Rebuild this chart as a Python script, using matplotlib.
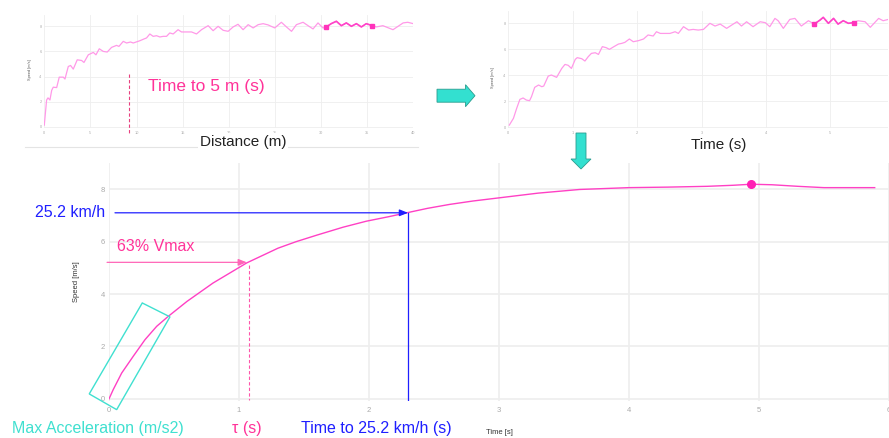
import matplotlib
matplotlib.use("Agg")
import matplotlib.pyplot as plt
from matplotlib.patches import Polygon, FancyArrow
from matplotlib.transforms import Affine2D

# ---------------- data ----------------
# main chart: modelled speed vs time
main_time = [0, 0.033, 0.098, 0.187, 0.277, 0.367, 0.456, 0.6, 0.8, 1.06, 1.3, 1.44, 1.6,
             1.8, 1.98, 2.15, 2.29, 2.45, 2.62, 2.8, 3.0, 3.3, 3.62, 4.0, 4.3, 4.6, 4.8,
             4.94, 5.1, 5.3, 5.5, 5.7, 5.89]
main_speed = [0, 0.36, 0.99, 1.63, 2.26, 2.77, 3.15, 3.72, 4.42, 5.19, 5.75, 6.0, 6.25,
              6.55, 6.78, 6.95, 7.1, 7.27, 7.42, 7.55, 7.67, 7.85, 7.99, 8.06, 8.08, 8.11,
              8.15, 8.19, 8.17, 8.11, 8.06, 8.06, 8.06]
vmax_time, vmax_speed = 4.94, 8.19
tau_time, tau_speed = 1.06, 5.19
t252_time, t252_speed = 2.30, 7.10
accel_box_x = [-0.152, 0.256, 0.469, 0.059]
accel_box_y = [0.19, 3.66, 3.13, -0.41]

# top-left: raw speed vs distance
dist_d = [0, 0.25, 0.4, 0.61, 0.8, 0.97, 1.34, 1.62, 2.06, 2.24, 2.6, 2.85, 3.14, 3.57,
          4.04, 4.3, 4.77, 5.31, 5.6, 5.96, 6.39, 6.82, 7.29, 7.83, 8.09, 8.56, 8.92,
          9.35, 9.64, 10.36, 10.8, 11.08, 11.44, 11.8, 12.17, 12.53, 12.89, 13.25, 13.6,
          13.97, 14.5, 14.87, 15.4, 15.96, 16.5, 17.04, 17.76, 18.3, 18.84, 19.39, 19.93,
          20.47, 21.0, 21.55, 22.1, 22.64, 23.18, 23.72, 24.26, 24.98, 25.7, 26.25, 26.8,
          27.33, 28.05, 28.59, 29.13, 29.67, 30.2, 30.58, 31.1, 31.66, 32.2, 32.74, 33.29,
          33.83, 34.37, 34.9, 35.56, 36.0, 36.7, 37.8, 38.9, 39.4, 40.0]
dist_v = [0.13, 2.13, 2.3, 2.13, 2.9, 3.15, 3.12, 3.95, 3.95, 3.8, 4.8, 4.88, 4.59, 5.33,
          5.28, 5.12, 5.73, 5.92, 5.73, 6.21, 6.0, 5.95, 6.32, 6.48, 6.4, 6.8, 6.67,
          6.75, 6.67, 6.85, 6.99, 7.07, 7.39, 7.2, 7.25, 7.15, 7.2, 7.2, 7.47,
          7.39, 7.73, 7.55, 7.55, 7.55, 7.39, 7.73, 8.05, 7.65, 8.0, 7.68, 7.6,
          7.95, 8.16, 7.73, 8.13, 7.87, 8.13, 8.21, 8.11, 7.87, 8.32, 7.95, 7.6,
          8.13, 8.32, 8.05, 7.79, 8.27, 7.87, 7.95, 8.21, 8.4, 8.05, 8.27, 8.0,
          8.21, 7.95, 8.21, 8.05, 7.95, 8.05, 7.73, 8.27, 8.32, 8.21]
dist_hi_start, dist_hi_end = 30.58, 35.56
dist_5m_marker = 9.2

# top-right: raw speed vs time
raw_t = [0.016, 0.08, 0.13, 0.18, 0.23, 0.28, 0.33, 0.36, 0.41, 0.47, 0.52, 0.55, 0.62,
         0.67, 0.75, 0.83, 0.88, 0.93, 0.98, 1.04, 1.07, 1.14, 1.19, 1.24, 1.29, 1.35,
         1.4, 1.46, 1.52, 1.57, 1.64, 1.71, 1.76, 1.81, 1.88, 1.94, 2.02, 2.1, 2.17,
         2.25, 2.3, 2.36, 2.43, 2.51, 2.59, 2.64, 2.72, 2.8, 2.87, 2.95, 3.03, 3.13,
         3.21, 3.29, 3.39, 3.47, 3.55, 3.62, 3.7, 3.8, 3.91, 3.99, 4.06, 4.14, 4.19,
         4.27, 4.37, 4.45, 4.55, 4.66, 4.75, 4.84, 4.89, 4.97, 5.05, 5.12, 5.2, 5.28,
         5.36, 5.43, 5.54, 5.62, 5.75, 5.82, 5.9]
raw_v = [0.15, 0.67, 1.44, 2.13, 2.24, 2.08, 2.03, 2.34, 3.06, 3.24, 3.11, 3.16, 3.93,
         4.01, 3.83, 4.52, 4.83, 4.76, 4.52, 5.22, 5.35, 5.27, 5.09, 5.42, 5.68, 5.73,
         5.6, 6.2, 6.12, 5.99, 6.2, 6.4, 6.45, 6.53, 6.79, 6.58, 6.66, 6.79, 7.1,
         7.02, 7.35, 7.22, 7.22, 7.22, 7.35, 7.22, 7.74, 7.48, 7.53, 7.48, 7.53, 8.0,
         7.79, 7.94, 7.61, 7.87, 8.12, 7.79, 8.12, 7.74, 8.12, 8.05, 7.74, 8.38, 8.2,
         7.61, 8.3, 8.38, 7.79, 8.2, 7.94, 8.25, 8.46, 8.0, 8.38, 7.94, 8.2, 8.0,
         8.05, 8.2, 8.12, 7.69, 8.38, 8.2, 8.3]
raw_hi_start, raw_hi_end = 4.75, 5.36

main_xticks = [0, 1, 2, 3, 4, 5, 6]
main_yticks = [0, 2, 4, 6, 8]
dist_xticks = [0, 5, 10, 15, 20, 25, 30, 35, 40]
raw_xticks = [0, 1, 2, 3, 4, 5]
small_yticks = [0, 2, 4, 6, 8]

# ---------------- style ----------------
W, H = 889, 438
fig = plt.figure(figsize=(W / 100, H / 100), dpi=100)
fig.patch.set_facecolor("white")
TXT = ["Liberation Sans", "DejaVu Sans"]
PINK = "#ff40c4"
LIGHTPINK = "#ff99e8"
HOTPINK = "#ff3399"
BLUE = "#1f1fff"
CYAN = "#40e0d0"
GRID = "#eeeeee"


def px_rect(left, top, right, bottom):
    return [left / W, 1 - bottom / H, (right - left) / W, (bottom - top) / H]


def style_axes(ax, size, grid_lw):
    for s in ax.spines.values():
        s.set_visible(False)
    ax.grid(True, color=GRID, linewidth=grid_lw)
    ax.set_axisbelow(True)
    ax.tick_params(length=0, labelsize=size, labelcolor="#aaaaaa")
    for lab in ax.get_xticklabels() + ax.get_yticklabels():
        lab.set_family(TXT)


def fx(x):
    return x / W


def fy(y):
    return 1 - y / H


# ---------------- main chart ----------------
ax = fig.add_axes(px_rect(109, 163, 889, 401))
ax.set_xlim(0, 6)
ax.set_ylim(-0.08, 9.0)
ax.set_xticks(main_xticks)
ax.set_yticks(main_yticks)
style_axes(ax, 5.5, 1.2)
ax.tick_params(axis="x", pad=4)
ax.tick_params(axis="y", pad=3)
ax.plot(main_time, main_speed, color=PINK, lw=1.0, zorder=3, solid_joinstyle="round")
ax.plot([vmax_time], [vmax_speed], "o", color="#ff1fb4", ms=5.5, zorder=4)

# 25.2 km/h arrow and vertical
ax.annotate("", xy=(t252_time, t252_speed), xytext=(0.046, t252_speed),
            arrowprops=dict(arrowstyle="-|>,head_length=0.5,head_width=0.2",
                            color=BLUE, lw=0.9, shrinkA=0, shrinkB=0),
            annotation_clip=False, zorder=5)
ax.plot([t252_time, t252_time], [t252_speed, -0.05], color=BLUE, lw=0.9, zorder=5)

# 63% Vmax arrow and dashed vertical
ax.annotate("", xy=(tau_time, tau_speed + 0.02), xytext=(-0.015, tau_speed + 0.02),
            arrowprops=dict(arrowstyle="-|>,head_length=0.5,head_width=0.2",
                            color="#ff66b8", lw=0.9, shrinkA=0, shrinkB=0),
            annotation_clip=False, zorder=5)
ax.plot([tau_time + 0.02, tau_time + 0.02], [tau_speed - 0.1, -0.05], color="#ff55aa",
        lw=0.8, ls=(0, (3, 2)), zorder=5)

# max acceleration box
ax.add_patch(Polygon(list(zip(accel_box_x, accel_box_y)), closed=True, fill=False,
                     edgecolor=CYAN, lw=1.0, clip_on=False, zorder=5))

fig.text(fx(76), fy(282), "Speed [m/s]", rotation=90, ha="center", va="center",
         fontsize=5.5, color="#333333", family=TXT)
fig.text(fx(499), fy(432), "Time [s]", ha="center", va="center",
         fontsize=5.5, color="#333333", family=TXT)

# annotation texts
fig.text(fx(105), fy(213), "25.2 km/h", ha="right", va="center", fontsize=11.5,
         color=BLUE, family=TXT)
fig.text(fx(117), fy(246.5), "63% Vmax", ha="left", va="center", fontsize=11.5,
         color=HOTPINK, family=TXT)
fig.text(fx(12), fy(429), "Max Acceleration (m/s2)", ha="left", va="center",
         fontsize=11.5, color=CYAN, family=TXT)
fig.text(fx(232), fy(429), "τ (s)", ha="left", va="center", fontsize=11.5,
         color=HOTPINK, family=TXT)
fig.text(fx(301), fy(429), "Time to 25.2 km/h (s)", ha="left", va="center",
         fontsize=11.5, color=BLUE, family=TXT)

# ---------------- top-left: distance ----------------
ax1 = fig.add_axes(px_rect(44.3, 15, 413.3, 128))
ax1.set_xlim(0, 40)
ax1.set_ylim(-0.1, 8.9)
ax1.set_xticks(dist_xticks)
ax1.set_yticks(small_yticks)
style_axes(ax1, 2.8, 0.6)
ax1.tick_params(pad=2)
ax1.plot(dist_d, dist_v, color=LIGHTPINK, lw=0.9, zorder=3, solid_joinstyle="round")
hi = [(d, v) for d, v in zip(dist_d, dist_v) if dist_hi_start <= d <= dist_hi_end]
ax1.plot([p[0] for p in hi], [p[1] for p in hi], color="#ff44c8", lw=1.2, zorder=4)
ax1.plot([hi[0][0], hi[-1][0]], [hi[0][1], hi[-1][1]], "s", color="#ff33bb", ms=2.2,
         zorder=5)
ax1.plot([dist_5m_marker, dist_5m_marker], [4.2, -0.5], color="#e8407f", lw=0.8,
         ls=(0, (3, 2)), clip_on=False, zorder=5)
fig.text(fx(30), fy(70), "Speed [m/s]", rotation=90, ha="center", va="center",
         fontsize=2.8, color="#555555", family=TXT)
fig.text(fx(148), fy(86), "Time to 5 m (s)", ha="left", va="center", fontsize=12.5,
         color=HOTPINK, family=TXT)
fig.add_artist(plt.Line2D([fx(25), fx(418)], [fy(147), fy(147)], color="#e4e4e4",
                          lw=0.8))
fig.text(fx(243), fy(142), "Distance (m)", ha="center", va="center", fontsize=11,
         color="#222222", family=TXT,
         bbox=dict(facecolor="white", edgecolor="none", pad=1.5))

# ---------------- top-right: time ----------------
ax2 = fig.add_axes(px_rect(508.3, 11, 888.3, 128.3))
ax2.set_xlim(0, 5.9)
ax2.set_ylim(-0.1, 8.95)
ax2.set_xticks(raw_xticks)
ax2.set_yticks(small_yticks)
style_axes(ax2, 2.8, 0.6)
ax2.tick_params(pad=2)
ax2.plot(raw_t, raw_v, color=LIGHTPINK, lw=0.9, zorder=3, solid_joinstyle="round")
hi2 = [(t, v) for t, v in zip(raw_t, raw_v) if raw_hi_start <= t <= raw_hi_end]
ax2.plot([p[0] for p in hi2], [p[1] for p in hi2], color="#ff44c8", lw=1.2, zorder=4)
ax2.plot([hi2[0][0], hi2[-1][0]], [hi2[0][1], hi2[-1][1]], "s", color="#ff33bb", ms=2.2,
         zorder=5)
fig.text(fx(493), fy(78), "Speed [m/s]", rotation=90, ha="center", va="center",
         fontsize=2.8, color="#555555", family=TXT)
fig.text(fx(719), fy(145), "Time (s)", ha="center", va="center", fontsize=11,
         color="#222222", family=TXT)

# ---------------- big block arrows (pixel coordinates) ----------------
pix = Affine2D().scale(1 / W, -1 / H).translate(0, 1) + fig.transFigure
fig.add_artist(FancyArrow(437, 95.7, 38, 0, width=13, head_width=22, head_length=9.5,
                          length_includes_head=True, facecolor="#33e0d0",
                          edgecolor="#2a9d8f", lw=0.6, transform=pix))
fig.add_artist(FancyArrow(581, 133, 0, 36, width=10, head_width=20, head_length=10,
                          length_includes_head=True, facecolor="#33e0d0",
                          edgecolor="#2a9d8f", lw=0.6, transform=pix))

fig.savefig("out.png", dpi=100, facecolor="white")
